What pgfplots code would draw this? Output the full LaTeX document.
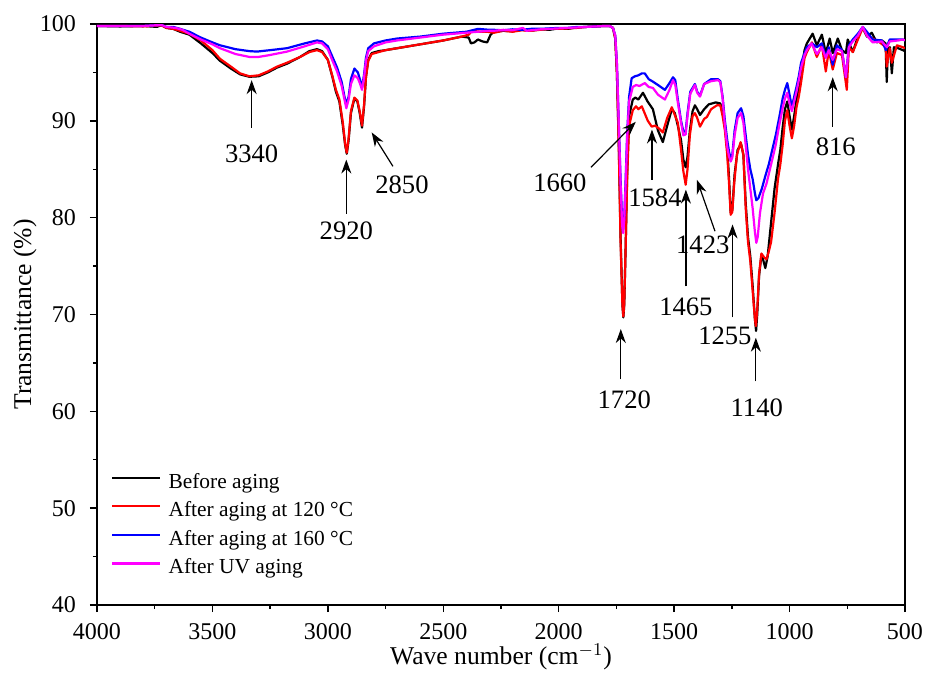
\documentclass[border=0pt]{standalone}
\usepackage{fontspec}
\setmainfont{Liberation Serif}
\usepackage{pgfplots}
\pgfplotsset{compat=1.18}
\usetikzlibrary{arrows.meta}
\definecolor{cBlack}{RGB}{0,0,0}
\definecolor{cRed}{RGB}{255,0,0}
\definecolor{cBlue}{RGB}{0,0,255}
\definecolor{cMag}{RGB}{255,0,255}
\tikzset{ann/.style={line width=0.6pt, -{Stealth[length=7pt,width=5pt]}},
  annl/.style={font=\fontsize{13.3}{16}\selectfont}}
\begin{document}
\begin{tikzpicture}
\useasboundingbox (0,0) rectangle (464pt,346pt);
\begin{axis}[
  at={(48.5pt,43.5pt)}, anchor=south west,
  scale only axis, width=404pt, height=290.5pt,
  x dir=reverse, xmin=500, xmax=4000, ymin=40, ymax=100,
  xtick={500,1000,...,4000}, ytick={40,50,...,100},
  minor x tick num=1, minor y tick num=1,
  xtick pos=bottom, ytick pos=left, tick align=outside,
  major tick length=3.5pt, minor tick length=2pt,
  every tick/.style={black, line width=0.7pt},
  axis line style={line width=0.8pt},
  /pgf/number format/1000 sep={},
  /pgf/number format/assume math mode=true,
  tick label style={font=\fontsize{12}{14}\selectfont},
  xticklabel shift=2pt, yticklabel shift=3.5pt,
  xlabel={Wave number (cm$^{-1}$)},
  ylabel={Transmittance (\%)},
  every axis x label/.style={at={(axis description cs:0.5,0)}, anchor=center, yshift=-26pt, font=\fontsize{12.8}{15}\selectfont},
  every axis y label/.style={at={(axis description cs:-0.0891,0.5)}, rotate=90, anchor=center, font=\fontsize{12.8}{15}\selectfont},
  legend style={at={(axis description cs:0.0173,0.233)}, anchor=north west, draw=none, fill=none,
    inner sep=0pt, row sep=1.5pt, column sep=2pt, font=\fontsize{10.7}{12}\selectfont,
    nodes={inner sep=1.5pt, text height=7.5pt, text depth=2.3pt}},
  legend cell align=left,
  legend image code/.code={\draw[#1] (0pt,2.6pt) -- (24pt,2.6pt);},
  every axis plot/.append style={line width=1.1pt, line join=round},
]
\addplot[cBlack] coordinates {
(4000,99.8)(3900,99.75)(3800,99.8)(3740,99.7)(3720,99.9)(3700,99.6)(3670,99.5)(3640,99.2)(3600,98.9)
(3550,98.0)(3500,97.0)(3467,96.2)(3420,95.4)(3380,94.8)(3340,94.55)(3300,94.6)(3260,95.0)(3220,95.5)
(3177,95.9)(3120,96.6)(3080,97.2)(3047,97.4)(3025,97.2)(3000,96.3)(2980,94.5)(2965,93.0)(2950,92.0)
(2935,89.5)(2925,87.5)(2918,86.6)(2910,88.0)(2900,90.8)(2885,92.3)(2872,92.0)(2862,90.8)(2852,89.3)
(2843,91.5)(2835,94.5)(2825,96.3)(2810,97.0)(2780,97.2)(2750,97.3)(2700,97.5)(2600,97.9)(2500,98.3)
(2420,98.7)(2390,98.6)(2380,98.0)(2365,98.1)(2350,98.4)(2330,98.2)(2310,98.1)(2295,98.9)
(2280,99.2)(2240,99.3)(2200,99.25)(2160,99.4)(2120,99.3)(2080,99.45)(2040,99.4)(2000,99.55)(1960,99.5)
(1920,99.65)(1880,99.7)(1840,99.75)(1800,99.8)(1780,99.8)
(1765,99.6)(1755,98.5)(1748,95)(1740,88)(1732,78)(1724,71)(1720,69.7)(1716,71)(1710,77)(1703,85)
(1695,90.5)(1679,92.2)(1668,92.4)(1655,92.2)(1635,92.9)(1615,92.0)(1592,91.2)(1570,89.0)(1549,87.8)
(1530,89.5)(1510,91.2)(1497,90.8)(1484,89.5)(1470,88.0)(1460,86.0)(1450,85.2)(1442,86.3)(1432,89.0)
(1420,91.0)(1410,91.6)(1400,91.2)(1388,90.6)(1370,91.2)(1350,91.7)(1320,91.9)(1300,91.8)(1290,90.8)
(1280,89.5)(1270,87.2)(1262,84)(1255,80.5)(1248,80.8)(1238,84.5)(1225,87.0)(1210,87.6)(1200,86.5)
(1190,81.5)(1180,78)(1170,76)(1160,73)(1150,69.5)(1145,68.3)(1140,70)(1132,74)(1122,76.1)(1115,75.7)
(1105,74.8)(1095,76)(1080,79.5)(1065,83)(1050,85.5)(1040,87)(1030,89.3)(1020,91.2)(1010,92.0)
(1000,90.5)(990,89.1)(980,90.5)(970,92.2)(960,93.5)(950,95.0)(935,97.3)(925,98.0)(910,98.6)
(900,99.0)(882,97.8)(860,98.9)(843,97.0)(826,98.5)(813,97.0)(791,98.5)(773,97.3)(756,97.0)(748,98.4)
(726,97.1)(704,98.7)(683,99.6)(665,98.7)(644,99.1)(622,98.1)(600,98.3)(584,98.0)(579,94.0)(574,97.5)
(565,97.6)(557,94.9)(548,97.6)(530,97.5)(509,97.3)(500,97.2)
};
\addlegendentry{Before aging}
\addplot[cRed] coordinates {
(4000,99.8)(3900,99.8)(3800,99.75)(3720,99.85)(3700,99.6)(3670,99.5)(3640,99.3)(3600,99.0)
(3550,98.3)(3500,97.3)(3467,96.4)(3420,95.6)(3380,94.9)(3340,94.6)(3300,94.7)(3260,95.1)(3220,95.6)
(3177,96.0)(3120,96.6)(3080,97.1)(3047,97.3)(3025,97.1)(3000,96.3)(2980,94.6)(2965,93.2)(2950,92.2)
(2935,89.8)(2925,87.6)(2918,86.7)(2910,88.2)(2900,91.0)(2885,92.4)(2872,92.1)(2862,91.0)(2852,89.5)
(2843,91.7)(2835,94.5)(2825,96.2)(2810,96.9)(2780,97.1)(2750,97.3)(2700,97.5)(2600,97.9)(2500,98.3)
(2420,98.7)(2390,98.9)(2375,99.3)(2340,99.2)(2310,99.2)
(2280,99.1)(2240,99.3)(2200,99.2)(2160,99.35)(2120,99.3)(2080,99.4)(2040,99.5)(2000,99.5)(1960,99.55)
(1920,99.6)(1880,99.7)(1840,99.75)(1800,99.8)(1780,99.8)
(1765,99.6)(1755,98.5)(1748,95)(1740,87.5)(1732,77.5)(1724,71)(1720,69.8)(1716,71.2)(1710,77)
(1703,84.5)(1695,89.5)(1679,91.1)(1665,91.5)(1655,91.2)(1640,91.5)(1614,90.0)(1597,89.4)(1583,89.5)
(1565,89.2)(1549,88.8)(1530,90.3)(1510,91.4)(1497,90.6)(1484,89.8)(1470,87.0)(1460,84.8)(1450,83.4)
(1442,85.0)(1432,88.5)(1420,90.5)(1410,90.8)(1400,90.3)(1388,89.4)(1370,90.2)(1358,90.4)(1340,91.2)
(1315,91.6)(1300,91.6)(1290,90.5)(1280,89.0)(1270,86.5)(1262,83.5)(1255,80.3)(1248,80.6)(1240,83.5)
(1228,86.5)(1212,87.8)(1200,86.5)(1190,81.0)(1180,77.5)(1170,75.5)(1160,72.5)(1150,69.5)(1146,68.8)
(1140,70.5)(1132,74.2)(1122,76.3)(1110,75.9)(1100,75.7)(1090,76.5)(1080,77.5)(1065,80.5)(1050,84)
(1040,85.5)(1030,87.5)(1020,90.0)(1010,91.1)(1000,89.5)(990,88.2)(980,89.5)(970,91.4)(960,92.5)
(950,94.0)(935,96.5)(925,97.1)(903,98.1)(882,96.6)(860,97.8)(843,95.1)(830,97.3)(813,95.3)(795,97.0)
(773,96.8)(752,93.2)(743,97.6)(726,97.1)(704,98.4)(683,99.6)(665,98.8)(640,98.5)(609,98.1)(583,97.6)
(579,95.6)(566,97.5)(557,96.0)(535,97.8)(509,97.6)(500,97.5)
};
\addlegendentry{After aging at 120 °C}
\addplot[cBlue] coordinates {
(4000,99.8)(3900,99.8)(3800,99.8)(3720,99.9)(3700,99.7)(3670,99.7)(3640,99.5)(3600,99.2)(3550,98.6)
(3500,98.1)(3467,97.8)(3400,97.4)(3340,97.2)(3307,97.15)(3250,97.3)(3177,97.5)(3100,98.0)(3047,98.3)
(3025,98.2)(3000,97.7)(2980,96.6)(2960,95.5)(2940,94.0)(2928,92.5)(2920,91.7)(2910,92.5)(2900,94.3)
(2885,95.4)(2870,95.0)(2860,94.2)(2852,93.4)(2843,94.8)(2835,96.5)(2825,97.5)(2800,98.0)(2750,98.3)
(2700,98.5)(2600,98.7)(2500,99.0)(2400,99.2)(2350,99.5)(2300,99.4)
(2280,99.4)(2240,99.35)(2200,99.45)(2160,99.4)(2120,99.5)(2080,99.5)(2040,99.55)(2000,99.6)(1960,99.6)
(1920,99.7)(1880,99.7)(1840,99.75)(1800,99.8)(1780,99.8)
(1765,99.6)(1755,98.8)(1748,96)(1740,90)(1732,84)(1725,79.5)(1721,78.8)(1716,80)(1710,84)(1703,89)
(1695,92.5)(1684,94.4)(1670,94.6)(1655,94.7)(1640,94.9)(1627,94.9)(1610,94.3)(1592,94.05)(1570,93.7)
(1540,93.2)(1520,93.9)(1505,94.5)(1495,94.2)(1484,92.2)(1470,90.0)(1460,88.9)(1450,88.9)(1442,90.8)
(1430,93.0)(1410,93.8)(1400,93.0)(1388,92.6)(1370,93.8)(1340,94.3)(1310,94.3)(1300,94.1)(1290,92.5)
(1280,90)(1270,88)(1262,86.8)(1255,86.1)(1248,86.5)(1238,89)(1225,90.8)(1210,91.3)(1200,90.5)
(1190,88.5)(1180,86.5)(1170,85)(1160,84)(1150,82.5)(1144,81.8)(1135,82)(1120,83)(1105,84.3)(1090,85.5)
(1075,87)(1060,88.5)(1045,90.3)(1030,92.3)(1020,93.2)(1010,93.9)(1000,92.7)(990,91.4)(980,92.5)
(970,93.5)(960,94.6)(950,96.0)(935,97.0)(925,97.6)(903,98.0)(882,97.6)(860,98.0)(843,96.6)(830,97.6)
(813,95.8)(795,97.8)(773,97.3)(756,94.5)(743,97.8)(726,98.4)(704,99.0)(683,99.7)(665,99.2)(640,98.4)
(600,98.3)(583,97.3)(575,97.9)(566,98.4)(509,98.4)(500,98.3)
};
\addlegendentry{After aging at 160 °C}
\addplot[cMag] coordinates {
(4000,99.8)(3900,99.8)(3800,99.8)(3720,99.9)(3700,99.7)(3660,99.6)(3630,99.4)(3600,99.0)(3550,98.4)
(3500,97.9)(3467,97.5)(3400,96.9)(3340,96.6)(3300,96.6)(3250,96.8)(3177,97.15)(3100,97.7)(3047,98.1)
(3025,98.0)(3000,97.4)(2980,96.2)(2960,95.1)(2940,93.6)(2928,92.2)(2920,91.3)(2910,92.2)(2900,93.8)
(2885,94.7)(2870,94.4)(2860,93.8)(2852,93.2)(2843,94.5)(2835,96.2)(2825,97.2)(2800,97.7)(2750,98.1)
(2700,98.3)(2600,98.6)(2500,98.9)(2400,99.1)(2300,99.3)
(2280,99.3)(2240,99.4)(2200,99.35)(2155,99.6)(2140,99.3)(2080,99.45)(2040,99.5)(2000,99.55)(1960,99.6)
(1920,99.65)(1880,99.7)(1840,99.75)(1800,99.8)(1780,99.8)
(1765,99.6)(1755,98.8)(1748,96)(1740,90)(1732,83.5)(1725,79.2)(1721,78.4)(1716,79.8)(1710,83.5)
(1703,88.5)(1695,92)(1679,93.5)(1665,93.7)(1650,93.6)(1627,93.9)(1610,93.5)(1592,93.4)(1570,92.7)
(1540,92.2)(1520,93.2)(1505,94.2)(1495,93.7)(1484,91.9)(1470,89.8)(1460,88.5)(1450,88.6)(1442,90.5)
(1430,92.8)(1410,93.7)(1400,92.9)(1388,92.5)(1370,93.8)(1340,94.1)(1310,94.2)(1300,94.0)(1290,92.3)
(1280,89.5)(1270,87.3)(1262,86.3)(1255,85.8)(1248,86.2)(1238,88.5)(1225,90.3)(1210,90.8)(1200,89.8)
(1190,87.5)(1180,85.0)(1170,83)(1160,81)(1150,78.5)(1144,77.4)(1138,78)(1128,80.5)(1115,82.5)
(1100,83.5)(1090,84.5)(1075,86)(1060,87.5)(1045,89.5)(1030,91.3)(1020,92.3)(1010,92.9)(1000,91.8)
(990,91.0)(980,92.0)(970,93.0)(960,94.2)(950,95.5)(935,96.8)(925,97.3)(905,98.0)(882,96.9)(860,97.6)
(843,96.5)(830,97.3)(813,96.3)(795,97.4)(773,97.2)(756,94.5)(743,97.6)(726,98.2)(704,98.8)(683,99.7)
(665,98.8)(640,98.1)(600,98.2)(578,97.6)(566,98.2)(530,98.3)(509,98.4)(500,98.3)
};
\addlegendentry{After UV aging}
% annotations
\draw[ann] (axis cs:3330,89.3) -- (axis cs:3330,94.2);
\node[annl] at (axis cs:3330,86.6) {3340};
\draw[ann] (axis cs:2920,80.4) -- (axis cs:2920,86.0);
\node[annl] at (axis cs:2920,78.6) {2920};
\draw[ann] (axis cs:2718,85.3) -- (axis cs:2810,88.8);
\node[annl] at (axis cs:2679,83.4) {2850};
\draw[ann] (axis cs:1860,85.2) -- (axis cs:1666,89.9);
\node[annl] at (axis cs:1995,83.6) {1660};
\draw[ann] (axis cs:1596,83.9) -- (axis cs:1596,89.1);
\node[annl] at (axis cs:1583,82.06) {1584};
\draw[ann] (axis cs:1449,72.9) -- (axis cs:1449,82.9);
\node[annl] at (axis cs:1449,70.8) {1465};
\draw[ann] (axis cs:1323,78.6) -- (axis cs:1401,83.9);
\node[annl] at (axis cs:1376,77.2) {1423};
\draw[ann] (axis cs:1247,69.7) -- (axis cs:1247,79.3);
\node[annl] at (axis cs:1280,67.8) {1255};
\draw[ann] (axis cs:1731,63.3) -- (axis cs:1731,68.5);
\node[annl] at (axis cs:1716,61.2) {1720};
\draw[ann] (axis cs:1146,63.1) -- (axis cs:1146,67.6);
\node[annl] at (axis cs:1142,60.4) {1140};
\draw[ann] (axis cs:813,89.4) -- (axis cs:813,94.5);
\node[annl] at (axis cs:800,87.3) {816};
\end{axis}
\end{tikzpicture}
\end{document}
